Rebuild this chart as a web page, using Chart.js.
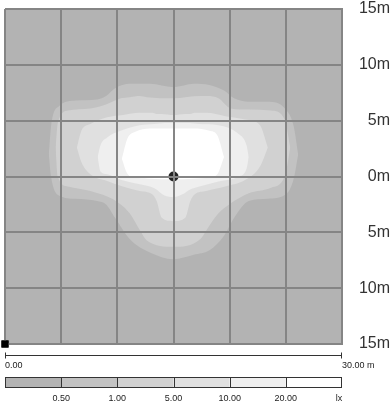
<!DOCTYPE html>
<html>
<head>
<meta charset="utf-8">
<script src="https://cdn.jsdelivr.net/npm/chart.js@4.4.0/dist/chart.umd.min.js"></script>
<style>
  html, body { margin: 0; padding: 0; background: #fff; }
  canvas { display: block; }
</style>
</head>
<body>
<canvas id="isoluxChart" width="390" height="408"></canvas>
<script>
'use strict';

// Illuminance classes (lx). First colour is the area below 0.50 lx.
const levels = [0.5, 1, 5, 10, 20];
const levelColors = ['#b3b3b3', '#c2c2c2', '#d1d1d1', '#e0e0e0', '#efefef', '#ffffff'];
const gridTicks = [-15, -10, -5, 0, 5, 10, 15]; // metres from the luminaire
const sideLength = 30; // metres, for the scale bar

// Contour outlines in metres: x, upper edge, lower edge.
const c05X = [-11.1, -10.9, -10.2, -8.7, -6.8, -6.0, -5.2, -3.9, -2.1, 0, 1.8, 3.2, 4.5, 5.4, 6.7, 8.4, 10.0, 10.7, 11.1];
const c05Top = [2.0, 4.5, 6.3, 6.8, 6.9, 7.2, 7.9, 8.3, 8.3, 8.0, 8.3, 8.2, 7.7, 7.0, 6.7, 6.7, 6.0, 4.5, 2.0];
const c05Bottom = [2.0, 0.0, -1.7, -2.0, -2.2, -2.5, -3.7, -5.6, -6.8, -7.4, -7.0, -6.6, -5.3, -3.7, -2.2, -2.0, -1.6, -0.2, 2.0];

const c1X = [-10.5, -10.3, -9.4, -7.4, -5.9, -4.7, -3.9, -3.0, -2.4, 0, 2.4, 3.0, 4.0, 5.1, 6.7, 8.7, 9.9, 10.4];
const c1Top = [2.6, 4.8, 5.9, 6.1, 6.5, 7.0, 7.1, 7.2, 7.1, 7.0, 7.2, 7.2, 7.0, 6.1, 6.0, 5.9, 5.1, 2.6];
const c1Bottom = [2.6, 0.0, -0.9, -1.3, -1.8, -2.5, -3.3, -4.8, -5.7, -6.3, -5.6, -4.7, -3.3, -2.4, -1.5, -1.0, 0.0, 2.6];

const c5X = [-8.6, -8.2, -7.4, -5.9, -4.5, -3.0, -1.9, -1.5, -1.05, 0, 1.05, 1.5, 1.9, 2.9, 4.6, 6.4, 7.7, 8.4];
const c5Top = [2.6, 4.1, 4.7, 5.3, 5.5, 5.7, 5.7, 5.6, 5.6, 5.5, 5.6, 5.6, 5.7, 5.7, 5.4, 5.1, 4.6, 2.6];
const c5Bottom = [2.6, 1.3, 0.2, -0.4, -0.9, -1.3, -1.6, -2.2, -3.7, -4.0, -3.7, -2.2, -1.6, -1.3, -0.9, -0.3, 0.9, 2.6];

const c10X = [-6.75, -6.5, -5.9, -4.7, -3.0, -1.7, -0.8, 0, 0.8, 1.4, 2.3, 4.0, 5.8, 6.5, 6.7];
const c10Top = [1.75, 2.8, 3.5, 4.1, 4.6, 4.7, 4.8, 4.8, 4.8, 4.8, 4.7, 4.6, 3.8, 2.8, 1.75];
const c10Bottom = [1.75, 0.45, 0.2, -0.3, -0.7, -1.05, -1.7, -1.85, -1.6, -1.2, -0.9, -0.45, 0.0, 0.7, 1.75];

const c20X = [-4.6, -4.1, -3.4, -2.1, 0, 1.8, 3.2, 3.9, 4.5];
const c20Top = [1.6, 3.4, 4.0, 4.3, 4.3, 4.3, 4.1, 3.7, 1.75];
const c20Bottom = [1.6, 0.25, -0.1, -0.2, -0.25, -0.2, -0.1, 0.2, 1.75];

const luminairePos = [{x: 0, y: 0}];
const originPos = [{x: -15, y: -15}];

Chart.defaults.font.family = '"Liberation Sans", Arial, sans-serif';

function toPoints(xs, ys) {
  return xs.map((x, i) => ({x: x, y: ys[i]}));
}

// Brightest contour first so it is drawn last (on top).
const contours = [
  {x: c20X, top: c20Top, bottom: c20Bottom, color: levelColors[5]},
  {x: c10X, top: c10Top, bottom: c10Bottom, color: levelColors[4]},
  {x: c5X, top: c5Top, bottom: c5Bottom, color: levelColors[3]},
  {x: c1X, top: c1Top, bottom: c1Bottom, color: levelColors[2]},
  {x: c05X, top: c05Top, bottom: c05Bottom, color: levelColors[1]},
];

let datasets = [
  {
    data: luminairePos,
    showLine: false,
    pointRadius: 5,
    pointBackgroundColor: '#262626',
    pointBorderWidth: 0,
  },
  {
    data: originPos,
    showLine: false,
    pointStyle: 'rect',
    pointRadius: 5,
    pointBackgroundColor: '#000',
    pointBorderWidth: 0,
    clip: false,
  },
];

contours.forEach(c => {
  datasets.push({
    data: toPoints(c.x, c.top),
    fill: '+1',
    backgroundColor: c.color,
    borderWidth: 0,
    pointRadius: 0,
    cubicInterpolationMode: 'monotone',
  });
  datasets.push({
    data: toPoints(c.x, c.bottom),
    fill: false,
    borderWidth: 0,
    pointRadius: 0,
    cubicInterpolationMode: 'monotone',
  });
});

// Paints the area below the lowest class.
const mapBackground = {
  id: 'mapBackground',
  beforeDatasetsDraw(chart) {
    const {ctx, chartArea} = chart;
    ctx.save();
    ctx.fillStyle = levelColors[0];
    ctx.fillRect(chartArea.left, chartArea.top, chartArea.width, chartArea.height);
    ctx.restore();
  }
};

// Scale bar and the lux class legend under the map.
const scaleAndLegend = {
  id: 'scaleAndLegend',
  afterDraw(chart) {
    const ctx = chart.ctx;
    const xScale = chart.scales.x;
    const left = xScale.getPixelForValue(gridTicks[0]);
    const right = xScale.getPixelForValue(gridTicks[gridTicks.length - 1]);
    const bottom = chart.chartArea.bottom;

    // origin marker sits on top of the frame
    chart.getDatasetMeta(1).data.forEach(pt => pt.draw(ctx));

    ctx.save();
    ctx.strokeStyle = '#333';
    ctx.fillStyle = '#222';
    ctx.lineWidth = 1;

    // scale bar
    let barY = Math.round(bottom + 11) + 0.5;
    ctx.beginPath();
    ctx.moveTo(left, barY);
    ctx.lineTo(right, barY);
    ctx.moveTo(left + 0.5, barY - 3);
    ctx.lineTo(left + 0.5, barY + 3);
    ctx.moveTo(right - 0.5, barY - 3);
    ctx.lineTo(right - 0.5, barY + 3);
    ctx.stroke();

    ctx.font = '9px "Liberation Sans", Arial, sans-serif';
    ctx.textBaseline = 'middle';
    ctx.textAlign = 'left';
    ctx.fillText('0.00', left, bottom + 22);
    ctx.fillText(sideLength.toFixed(2) + ' m', right, bottom + 22);

    // legend swatches
    const top = bottom + 33;
    const h = 10;
    const w = (right - left) / levelColors.length;
    for (let i = 0; i < levelColors.length; i++) {
      ctx.fillStyle = levelColors[i];
      ctx.fillRect(left + i * w, top, w, h);
    }
    ctx.strokeStyle = '#333';
    ctx.strokeRect(Math.round(left) + 0.5, top + 0.5, Math.round(right - left) - 1, h);
    ctx.beginPath();
    for (let i = 1; i < levelColors.length; i++) {
      let x = Math.round(left + i * w) + 0.5;
      ctx.moveTo(x, top);
      ctx.lineTo(x, top + h);
    }
    ctx.stroke();

    ctx.fillStyle = '#222';
    ctx.textAlign = 'center';
    for (let i = 0; i < levels.length; i++) {
      ctx.fillText(levels[i].toFixed(2), left + (i + 1) * w, top + h + 12);
    }
    ctx.fillText('lx', right - 3, top + h + 12);
    ctx.restore();
  }
};

const config = {
  type: 'line',
  data: {datasets: datasets},
  options: {
    responsive: false,
    animation: false,
    devicePixelRatio: 1,
    layout: {padding: {left: 5, top: 9, right: 0, bottom: 64}},
    plugins: {legend: {display: false}, tooltip: {enabled: false}},
    scales: {
      x: {
        type: 'linear',
        min: -15,
        max: 15,
        afterBuildTicks: scale => { scale.ticks = gridTicks.map(v => ({value: v})); },
        ticks: {display: false},
        grid: {color: '#858585', lineWidth: 2, drawTicks: false, z: 1},
        border: {color: '#858585', width: 2, z: 1},
      },
      y: {
        type: 'linear',
        position: 'right',
        min: -15,
        max: 15,
        afterBuildTicks: scale => { scale.ticks = gridTicks.map(v => ({value: v})); },
        afterFit: scale => { scale.width = 48; },
        ticks: {
          callback: value => Math.abs(value) + 'm',
          color: '#333',
          font: {size: 16, lineHeight: 1},
          padding: 0,
          crossAlign: 'far',
        },
        grid: {
          color: '#858585',
          lineWidth: 2,
          drawTicks: true,
          tickLength: 10,
          tickColor: 'rgba(0,0,0,0)',
          z: 1,
        },
        border: {color: '#858585', width: 2, z: 1},
      },
    },
  },
  plugins: [mapBackground, scaleAndLegend],
};

const isoluxChart = new Chart(document.getElementById('isoluxChart'), config);
</script>
</body>
</html>
